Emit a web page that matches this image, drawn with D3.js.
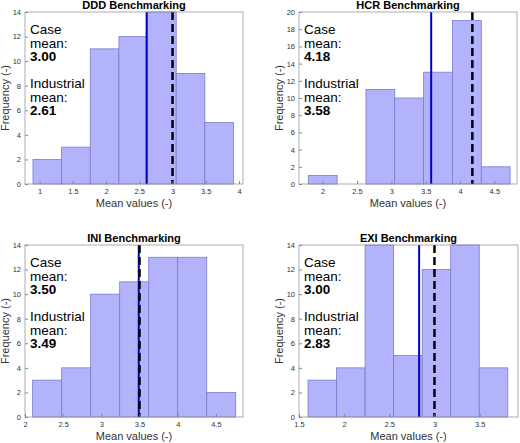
<!DOCTYPE html>
<html><head><meta charset="utf-8">
<script src="https://cdn.jsdelivr.net/npm/d3@7"></script>
<style>body{margin:0;background:#fff}text{font-family:Arial,"Liberation Sans",sans-serif}</style>
</head><body><svg id="c" width="520" height="443"></svg>
<script>
const titles = ["DDD Benchmarking","HCR Benchmarking","INI Benchmarking","EXI Benchmarking"];
const binStart = [0.90, 1.79, 2.10, 1.60];
const binWidth = [0.431, 0.420, 0.380, 0.316];
const counts = [
  [2,3,11,12,14,9,5],
  [1,0,11,10,13,19,2],
  [3,4,10,11,13,13,2],
  [3,4,14,5,12,14,4]
];
const caseMean = [3.00, 4.18, 3.50, 3.00];
const industrialMean = [2.61, 3.58, 3.49, 2.83];
const xDomains = [[0.78,4.06],[1.655,4.83],[2,4.855],[1.5,3.925]];
const xTicks = [[1,1.5,2,2.5,3,3.5,4],[2,2.5,3,3.5,4,4.5],[2,2.5,3,3.5,4,4.5],[1.5,2,2.5,3,3.5]];
const yMax = [14,20,14,14];

const boxes = [[25,12,243,184],[299,12,517,184],[25,245,243,417],[299,245,518,417]];
const svg = d3.select("#c");
titles.forEach((t,i)=>{
  const [l,tp,r,b] = boxes[i];
  const g = svg.append("g");
  const x = d3.scaleLinear().domain(xDomains[i]).range([l,r]);
  const y = d3.scaleLinear().domain([0,yMax[i]]).range([b,tp]);
  const bins = counts[i].map((c,k)=>({x0:binStart[i]+k*binWidth[i], x1:binStart[i]+(k+1)*binWidth[i], c}));
  g.selectAll("rect.bar").data(bins).join("rect")
    .attr("x",d=>x(d.x0)).attr("width",d=>x(d.x1)-x(d.x0))
    .attr("y",d=>y(Math.min(d.c,yMax[i]))).attr("height",d=>b-y(Math.min(d.c,yMax[i])))
    .attr("fill","#b3b3fb").attr("stroke","#7a7ad0").attr("stroke-width",0.8);
  g.append("line").attr("x1",x(industrialMean[i])).attr("x2",x(industrialMean[i])).attr("y1",tp).attr("y2",b)
    .attr("stroke","#0000c8").attr("stroke-width",2);
  g.append("line").attr("x1",x(caseMean[i])).attr("x2",x(caseMean[i])).attr("y1",tp).attr("y2",b)
    .attr("stroke","#000").attr("stroke-width",2.5).attr("stroke-dasharray","8,4");
  g.append("rect").attr("x",l).attr("y",tp).attr("width",r-l).attr("height",b-tp)
    .attr("fill","none").attr("stroke","#999").attr("stroke-width",0.8);
  const xa = g.append("g").attr("transform",`translate(0,${b})`)
    .call(d3.axisBottom(x).tickValues(xTicks[i]).tickSize(-3).tickPadding(5).tickFormat(d3.format("")));
  const ya = g.append("g").attr("transform",`translate(${l},0)`)
    .call(d3.axisLeft(y).ticks(yMax[i]/2).tickSize(-3).tickPadding(4));
  [xa,ya].forEach(a=>{a.select(".domain").remove();a.selectAll("line").attr("stroke","#888");
    a.selectAll("text").attr("font-size",7.5).attr("fill","#333");});
  g.append("text").attr("x",(l+r)/2).attr("y",tp-3).attr("text-anchor","middle")
    .attr("font-size",11).attr("font-weight","bold").text(t);
  g.append("text").attr("x",(l+r)/2).attr("y",b+23).attr("text-anchor","middle")
    .attr("font-size",11).attr("fill","#333").text("Mean values (-)");
  g.append("text").attr("transform",`translate(${l-16},${(tp+b)/2}) rotate(-90)`).attr("text-anchor","middle")
    .attr("font-size",11).attr("fill","#333").text("Frequency (-)");
  const tx = l+5;
  const lines = [["Case",false,30],["mean:",false,44],[caseMean[i].toFixed(2),true,57],
                 ["Industrial",false,84],["mean:",false,98],[industrialMean[i].toFixed(2),true,111]];
  lines.forEach(([s,bold,dy])=>g.append("text").attr("x",tx).attr("y",tp+dy-8)
    .attr("font-size",13.5).attr("font-weight",bold?"bold":"normal").text(s));
});
</script></body></html>
